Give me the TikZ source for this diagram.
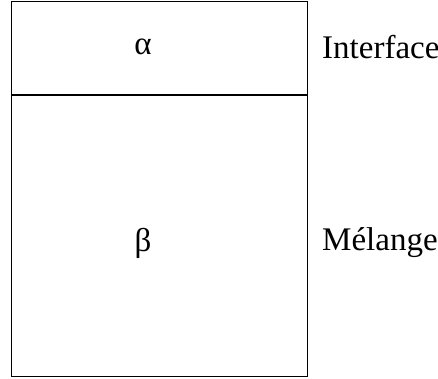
\documentclass[tikz,border=0pt]{standalone}
\usepackage{fontspec}
\setmainfont{Liberation Serif}
\usetikzlibrary{positioning}

\tikzset{
    layer/.style={draw, line width=0.9pt, minimum width=296pt, inner sep=0pt},
    lbl/.style={font=\fontsize{33}{39}\selectfont, inner sep=0pt}
}

\begin{document}
\begin{tikzpicture}[x=1pt, y=-1pt]
    \useasboundingbox (0,0) rectangle (438,378);

    % Layers
    \node[layer, minimum height=93.5pt, anchor=north west] (interface) at (10.5,0.5) {};
    \node[layer, minimum height=281pt, anchor=north west] (melange) at (interface.south west) {};

    % Phase symbols
    \node[lbl] (alpha) at (143,47) {α};
    \node[lbl] (beta) at (143,243) {β};

    % Layer names
    \node[lbl, anchor=west] (nameI) at (322,47) {Interface};
    \node[lbl, anchor=west] (nameM) at (322,243) {Mélange};
\end{tikzpicture}
\end{document}
